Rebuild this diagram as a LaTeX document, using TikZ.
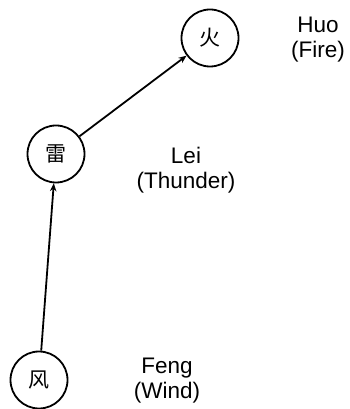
\documentclass[tikz,border=0pt]{standalone}
\usepackage{fontspec}
\setmainfont{Liberation Sans}
\newfontfamily\cjk{Noto Sans CJK SC}
\usetikzlibrary{arrows.meta}
\begin{document}
\begin{tikzpicture}[x=1pt,y=1pt,
  elem/.style={circle,draw,line width=1.8pt,minimum size=57pt,inner sep=0pt,font=\cjk\fontsize{21}{21}\selectfont},
  lbl/.style={align=center,font=\fontsize{22.5}{25}\selectfont},
  conn/.style={line width=1.8pt,-{Stealth[length=8pt,width=6.5pt]}}]
\useasboundingbox (0,0) rectangle (349,409);
\node[elem] (feng) at (39,29) {风};
\node[elem] (lei) at (56,255) {雷};
\node[elem] (huo) at (210,371) {火};
\node[lbl] (fengl) at (167,28) {Feng\\(Wind)};
\node[lbl] (leil) at (186,239) {Lei\\(Thunder)};
\node[lbl] (huol) at (318,369) {Huo\\(Fire)};
\draw[conn] (feng) -- (lei);
\draw[conn] (lei) -- (huo);
\end{tikzpicture}
\end{document}
